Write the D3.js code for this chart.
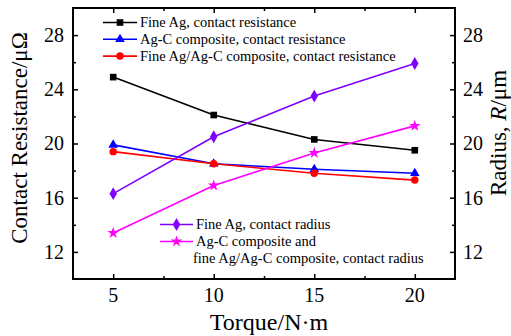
<!DOCTYPE html>
<html>
<head>
<meta charset="utf-8">
<script src="https://cdn.jsdelivr.net/npm/d3@7"></script>
</head>
<body style="margin:0">
<svg id="chart" width="511" height="336"></svg>
<script>
// Torque settings (N·m)
const torque = [5, 10, 15, 20];

// Contact resistance (μΩ), left axis
const fineAgResistance = [24.9, 22.1, 20.3, 19.5];
const agCResistance = [19.9, 18.5, 18.1, 17.8];
const fineAgAgCResistance = [19.4, 18.5, 17.8, 17.3];

// Contact radius (μm), right axis
const fineAgRadius = [16.3, 20.5, 23.5, 25.9];
const agCRadius = [13.4, 16.9, 19.3, 21.3];

const xTicks = [5, 10, 15, 20];
const xMinorTicks = [7.5, 12.5, 17.5];
const yTicks = [12, 16, 20, 24, 28];
const yMinorTicks = [14, 18, 22, 26];

const FONT = "Liberation Serif";
const plot = { left: 73, right: 455, top: 8, bottom: 279 };

const svg = d3.select("#chart");

const x = d3.scaleLinear().domain([3, 22]).range([plot.left, plot.right]);
const yL = d3.scaleLinear().domain([10, 30]).range([plot.bottom, plot.top]);
const yR = d3.scaleLinear().domain([10, 30]).range([plot.bottom, plot.top]);

const tickFont = 20;
const majorLen = 5, minorLen = 3;

// Draw a text element in the serif face
function addText(parent, str, size) {
  return parent.append("text")
    .attr("font-family", FONT)
    .attr("font-size", size)
    .attr("fill", "#000")
    .text(str);
}

function tickLines(g) {
  g.select(".domain").remove();
  g.selectAll("text").remove();
  g.selectAll(".tick line").attr("stroke", "#000").attr("stroke-width", 1.5);
}

// Tick marks, all pointing into the plot
const tickAxes = [
  [d3.axisBottom(x), plot.bottom, "y", xTicks, xMinorTicks],
  [d3.axisTop(x), plot.top, "y", xTicks, xMinorTicks],
  [d3.axisLeft(yL), plot.left, "x", yTicks, yMinorTicks],
  [d3.axisRight(yR), plot.right, "x", yTicks, yMinorTicks]
];
tickAxes.forEach(([axis, pos, dir, major, minor]) => {
  const tr = dir === "y" ? `translate(0,${pos})` : `translate(${pos},0)`;
  svg.append("g").attr("transform", tr)
    .call(axis.tickValues(major).tickSize(-majorLen).tickFormat(""))
    .call(tickLines);
  svg.append("g").attr("transform", tr)
    .call(axis.tickValues(minor).tickSize(-minorLen).tickFormat(""))
    .call(tickLines);
});

// Tick labels
const fmt = d3.format("d");
xTicks.forEach(v => {
  addText(svg, fmt(v), tickFont).attr("x", x(v)).attr("y", plot.bottom + 23)
    .attr("text-anchor", "middle");
});
yTicks.forEach(v => {
  addText(svg, fmt(v), tickFont).attr("x", plot.left - 9).attr("y", yL(v)).attr("dy", "0.34em")
    .attr("text-anchor", "end");
  addText(svg, fmt(v), tickFont).attr("x", plot.right + 8).attr("y", yR(v)).attr("dy", "0.34em")
    .attr("text-anchor", "start");
});

// Frame
svg.append("rect")
  .attr("x", plot.left).attr("y", plot.top)
  .attr("width", plot.right - plot.left).attr("height", plot.bottom - plot.top)
  .attr("fill", "none").attr("stroke", "#000").attr("stroke-width", 2);

// Marker shapes
const symbols = {
  square: d3.symbol().type(d3.symbolSquare).size(44),
  triangle: d3.symbol().type(d3.symbolTriangle).size(40),
  circle: d3.symbol().type(d3.symbolCircle).size(44),
  diamond: d3.symbol().type(d3.symbolDiamond).size(48),
  star: d3.symbol().type(d3.symbolStar).size(42)
};

const series = [
  { name: "Fine Ag, contact resistance", values: fineAgResistance, y: yL, color: "#000000", symbol: "square" },
  { name: "Ag-C composite, contact resistance", values: agCResistance, y: yL, color: "#0000ff", symbol: "triangle" },
  { name: "Fine Ag/Ag-C composite, contact resistance", values: fineAgAgCResistance, y: yL, color: "#ff0000", symbol: "circle" },
  { name: "Fine Ag, contact radius", values: fineAgRadius, y: yR, color: "#7f00ff", symbol: "diamond" },
  { name: "Ag-C composite and fine Ag/Ag-C composite, contact radius", values: agCRadius, y: yR, color: "#ff00ff", symbol: "star" }
];

const seriesG = svg.append("g");
series.forEach(s => {
  const pts = torque.map((t, i) => [t, s.values[i]]);
  const line = d3.line().x(d => x(d[0])).y(d => s.y(d[1]));
  seriesG.append("path").datum(pts)
    .attr("d", line).attr("fill", "none")
    .attr("stroke", s.color).attr("stroke-width", 1.6);
  seriesG.selectAll(null).data(pts).enter().append("path")
    .attr("transform", d => `translate(${x(d[0])},${s.y(d[1])})`)
    .attr("d", symbols[s.symbol]())
    .attr("fill", s.color);
});

// Legends
const legendFont = 14.5;
function legendRow(g, s, lx0, lx1, ly, label) {
  g.append("line").attr("x1", lx0).attr("x2", lx1).attr("y1", ly).attr("y2", ly)
    .attr("stroke", s.color).attr("stroke-width", 1.6);
  g.append("path").attr("transform", `translate(${(lx0 + lx1) / 2},${ly})`)
    .attr("d", symbols[s.symbol]()).attr("fill", s.color);
  addText(g, label, legendFont).attr("x", lx1 + 3).attr("y", ly).attr("dy", "0.33em");
}

const legTop = svg.append("g");
[0, 1, 2].forEach((k, i) => legendRow(legTop, series[k], 103, 137, 22.5 + i * 16.8, series[k].name));

const legBottom = svg.append("g");
legendRow(legBottom, series[3], 160, 193, 224.5, "Fine Ag, contact radius");
legendRow(legBottom, series[4], 160, 193, 241.5, "Ag-C composite and");
addText(legBottom, "fine Ag/Ag-C composite, contact radius", legendFont)
  .attr("x", 193).attr("y", 258.5).attr("dy", "0.33em");

// Axis titles
addText(svg, "Torque/N·m", 24)
  .attr("x", 269).attr("y", 330).attr("text-anchor", "middle");

addText(svg, "Contact Resistance/μΩ", 23)
  .attr("transform", "translate(27,138) rotate(-90)")
  .attr("text-anchor", "middle");

const rt = addText(svg, null, 23)
  .attr("transform", "translate(506,133) rotate(-90)")
  .attr("text-anchor", "middle");
rt.append("tspan").text("Radius, ");
rt.append("tspan").attr("font-style", "italic").text("R");
rt.append("tspan").text("/μm");
</script>
</body>
</html>
